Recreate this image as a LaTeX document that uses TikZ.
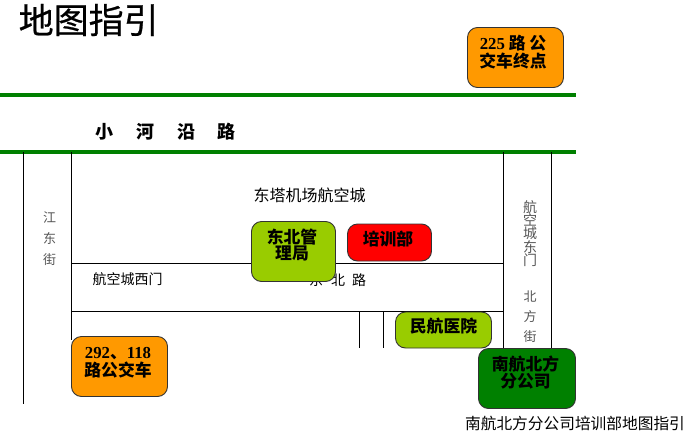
\documentclass[tikz,border=0pt]{standalone}
\usepackage{fontspec}
\setmainfont{Liberation Serif}
\newfontfamily\cjk{Noto Sans CJK SC}
\newfontfamily\cjkheavy[FakeBold=0.7]{Noto Sans CJK SC}
\definecolor{roadgreen}{HTML}{008000}
\definecolor{busorange}{HTML}{FF9900}
\definecolor{leafgreen}{HTML}{99CC00}
\definecolor{greytext}{HTML}{555555}
\tikzset{
	placebox/.style={draw=black!80,line width=0.9pt,rounded corners=10pt,inner sep=0pt},
	boxtext/.style={font=\cjk\bfseries\fontsize{16.8}{16.5}\selectfont,align=center,inner sep=0pt},
	maptext/.style={font=\cjk\fontsize{14}{14}\selectfont,inner sep=0pt},
	sidetext/.style={font=\cjk\fontsize{13}{14}\selectfont,text=greytext,align=center,inner sep=0pt},
	road/.style={black,line width=0.9pt},
	river/.style={roadgreen,line width=3.6pt},
}
\begin{document}
\begin{tikzpicture}[x=1pt,y=-1pt]
		\useasboundingbox (0,0) rectangle (691,445);
		\node[anchor=west,inner sep=0pt,font=\cjkheavy\fontsize{35}{35}\selectfont] (title) at (18.5,20) {地图指引};
		%
		\coordinate (riverAw) at (0,95);
		\coordinate (riverAe) at (576,95);
		\coordinate (riverBw) at (0,152);
		\coordinate (riverBe) at (576,152);
		\draw[river] (riverAw) -- (riverAe);
		\draw[river] (riverBw) -- (riverBe);
		\node[font=\cjk\bfseries\fontsize{18}{18}\selectfont,inner sep=0pt] (riverw) at (104,132) {小};
		\node[font=\cjk\bfseries\fontsize{18}{18}\selectfont,inner sep=0pt] (riverx) at (145,132) {河};
		\node[font=\cjk\bfseries\fontsize{18}{18}\selectfont,inner sep=0pt] (rivery) at (186,132) {沿};
		\node[font=\cjk\bfseries\fontsize{18}{18}\selectfont,inner sep=0pt] (riverz) at (226,132) {路};
		%
		\coordinate (westA) at (23.5,152);
		\coordinate (westB) at (23.5,404);
		\coordinate (westC) at (71.5,152);
		\coordinate (westD) at (71.5,340);
		\coordinate (eastA) at (503.5,152);
		\coordinate (eastB) at (503.5,350);
		\coordinate (eastC) at (551.5,152);
		\coordinate (eastD) at (551.5,350);
		\coordinate (midA) at (71.5,263.5);
		\coordinate (midB) at (503.5,263.5);
		\coordinate (midC) at (71.5,311.5);
		\coordinate (midD) at (503.5,311.5);
		\coordinate (gateA) at (359.5,311.5);
		\coordinate (gateB) at (359.5,348);
		\coordinate (gateC) at (383.5,311.5);
		\coordinate (gateD) at (383.5,348);
		\draw[road] (westA) -- (westB);
		\draw[road] (westC) -- (westD);
		\draw[road] (eastA) -- (eastB);
		\draw[road] (eastC) -- (eastD);
		\draw[road] (midA) -- (midB);
		\draw[road] (midC) -- (midD);
		\draw[road] (gateA) -- (gateB);
		\draw[road] (gateC) -- (gateD);
		%
		\node[font=\cjk\fontsize{16}{16}\selectfont,inner sep=0pt] (city) at (309.5,195) {东塔机场航空城};
		\node[maptext] (westgate) at (127.5,279) {航空城西门};
		\node[maptext] (roadeast) at (316,280) {东};
		\node[maptext] (roadnorth) at (338,280) {北};
		\node[maptext] (roadname) at (359,280) {路};
		\node[sidetext] (jiangdong) at (49.5,238.5) {江\\[7pt]东\\[7pt]街};
		\node[sidetext,font=\cjk\fontsize{14}{13.4}\selectfont] (eastgate) at (530,233.5) {航\\空\\城\\东\\门};
		\node[sidetext] (beifang) at (530,316.5) {北\\[6pt]方\\[6pt]街};
		%
		\node[placebox,fill=busorange,minimum width=96pt,minimum height=60pt] (bus225) at (515.5,57.5) {};
		\node[boxtext] (bus225text) at (513,52.5) {{\rmfamily\bfseries 225} 路 公\\[1.5pt]交车终点};
		\node[placebox,fill=busorange,minimum width=96pt,minimum height=60pt] (bus292) at (119.5,366.5) {};
		\node[boxtext] (bus292text) at (118,362.5) {{\rmfamily\bfseries 292}、{\rmfamily\bfseries 118}\\[1.5pt]路公交车};
		\node[placebox,fill=leafgreen,minimum width=84pt,minimum height=60pt] (bureau) at (293.5,251.5) {};
		\node[boxtext] (bureautext) at (292,245) {东北管\\理局};
		\node[placebox,fill=red,minimum width=84pt,minimum height=37pt] (training) at (389.5,242.5) {};
		\node[boxtext] (trainingtext) at (388,239) {培训部};
		\node[placebox,fill=leafgreen,minimum width=96pt,minimum height=36pt] (hospital) at (443.5,330) {};
		\node[boxtext] (hospitaltext) at (443.5,326) {民航医院};
		\node[placebox,fill=roadgreen,minimum width=97pt,minimum height=60pt] (company) at (527,378.5) {};
		\node[boxtext] (companytext) at (525.5,372.5) {南航北方\\分公司};
		%
		\node[font=\cjk\fontsize{15.7}{16}\selectfont,inner sep=0pt] (caption) at (575,423) {南航北方分公司培训部地图指引};
	\end{tikzpicture}
\end{document}
